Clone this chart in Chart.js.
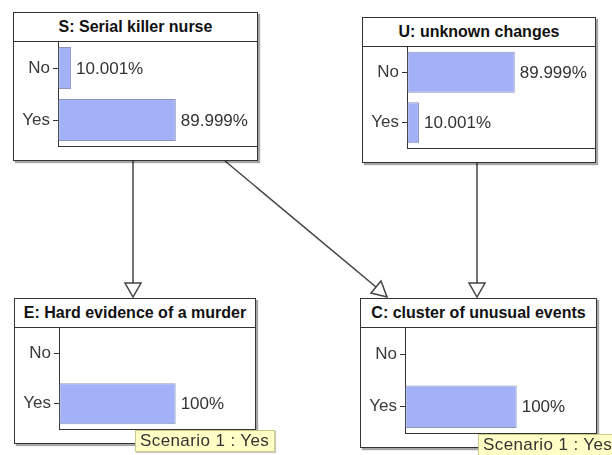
<!DOCTYPE html>
<html>
<head>
<meta charset="utf-8">
<script src="https://cdn.jsdelivr.net/npm/chart.js@4/dist/chart.umd.min.js"></script>
<style>
  body { margin: 0; background: #fff; font-family: "Liberation Sans", Arial, sans-serif; }
  #stage { position: relative; width: 612px; height: 455px; overflow: hidden; }
  svg { position: absolute; left: 0; top: 0; }
  .node {
    position: absolute; box-sizing: border-box; background: #fff;
    border: 1px solid #333; box-shadow: 2px 2px 1px rgba(0,0,0,0.35);
  }
  .node .title {
    height: 28px; line-height: 28px; border-bottom: 1px solid #333;
    text-align: center; font-weight: bold; font-size: 16px; color: #111;
  }
  .node .plot { position: relative; }
  .tip {
    position: absolute; box-sizing: border-box; height: 22px; padding: 0 5px 0 4px;
    background: #ffffc6; border: 1px solid #c9c98a; font-size: 17px; line-height: 20px;
    letter-spacing: 0.4px; color: #333; white-space: nowrap; box-shadow: 1px 1px 1px rgba(0,0,0,0.2);
  }
</style>
</head>
<body>
<div id="stage">
  <svg width="612" height="455">
    <g stroke="#444" stroke-width="1.5" fill="#fff">
      <line x1="133" y1="161" x2="133" y2="283"/>
      <polygon points="125,283 141,283 133,297"/>
      <line x1="225" y1="161" x2="376" y2="287"/>
      <polygon points="371,293 381,281 387,297"/>
      <line x1="477" y1="163" x2="477" y2="283"/>
      <polygon points="469,283 485,283 477,297"/>
    </g>
  </svg>
</div>
<script>
// node titles and states
const nodeTitles = ["S: Serial killer nurse", "U: unknown changes", "E: Hard evidence of a murder", "C: cluster of unusual events"];
const states = ["No", "Yes"];

// belief values (%) per node, in state order
const sValues = [10.001, 89.999];
const uValues = [89.999, 10.001];
const eValues = [0, 100];
const cValues = [0, 100];

const seriesValues = [sValues, uValues, eValues, cValues];
const axisMax = [152, 157, 168, 171];

// box geometry: left, top, width, height
const boxes = [
  [13, 12, 245, 149],
  [362, 17, 234, 146],
  [14, 298, 242, 146],
  [360, 298, 237, 150]
];

const stage = document.getElementById("stage");

const valueLabels = {
  id: "valueLabels",
  afterDatasetsDraw(chart) {
    const ctx = chart.ctx;
    const data = chart.data.datasets[0].data;
    chart.getDatasetMeta(0).data.forEach((bar, i) => {
      if (data[i] <= 0) return;
      const txt = Number.isInteger(data[i]) ? data[i] + "%" : data[i].toFixed(3) + "%";
      ctx.save();
      ctx.font = '17px "Liberation Sans", Arial, sans-serif';
      ctx.fillStyle = "#333";
      ctx.textBaseline = "middle";
      ctx.fillText(txt, bar.x + 5, bar.y + 1);
      ctx.restore();
    });
  }
};

nodeTitles.forEach((title, n) => {
  const [x, y, w, h] = boxes[n];
  const box = document.createElement("div");
  box.className = "node";
  box.style.left = x + "px";
  box.style.top = y + "px";
  box.style.width = w + "px";
  box.style.height = h + "px";
  const t = document.createElement("div");
  t.className = "title";
  t.textContent = title;
  box.appendChild(t);
  const wrap = document.createElement("div");
  wrap.className = "plot";
  wrap.style.width = (w - 2) + "px";
  wrap.style.height = (h - 2 - 29) + "px";
  const cv = document.createElement("canvas");
  wrap.appendChild(cv);
  box.appendChild(wrap);
  stage.appendChild(box);

  new Chart(cv.getContext("2d"), {
    type: "bar",
    data: {
      labels: states,
      datasets: [{
        data: seriesValues[n],
        backgroundColor: "#a3b2f8",
        borderColor: "#8f97b8",
        borderWidth: 1,
        borderSkipped: false,
        barPercentage: 0.9,
        categoryPercentage: 0.9
      }]
    },
    options: {
      indexAxis: "y",
      responsive: true,
      maintainAspectRatio: false,
      animation: false,
      layout: { padding: { top: 0, right: 0, bottom: 14, left: 0 } },
      plugins: { legend: { display: false }, tooltip: { enabled: false } },
      scales: {
        x: {
          min: 0, max: axisMax[n],
          ticks: { display: false },
          grid: { drawOnChartArea: false, drawTicks: false },
          border: { color: "#333", width: 1 },
          afterFit: s => { s.height = 0; s.paddingLeft = 0; s.paddingRight = 0; }
        },
        y: {
          ticks: { color: "#3a3a3a", padding: 3, font: { family: '"Liberation Sans", Arial, sans-serif', size: 17 } },
          grid: { offset: false, drawOnChartArea: false, drawTicks: true, tickLength: 5, color: "#333", lineWidth: 1 },
          border: { color: "#333", width: 1 },
          afterFit: s => { s.width = 44; s.paddingTop = 0; s.paddingBottom = 0; }
        }
      }
    },
    plugins: [valueLabels]
  });
});

// scenario notes on the evidence nodes
[["Scenario 1 : Yes", 135, 430], ["Scenario 1 : Yes", 478, 434]].forEach(([txt, x, y]) => {
  const d = document.createElement("div");
  d.className = "tip";
  d.style.left = x + "px";
  d.style.top = y + "px";
  d.textContent = txt;
  stage.appendChild(d);
});
</script>
</body>
</html>
